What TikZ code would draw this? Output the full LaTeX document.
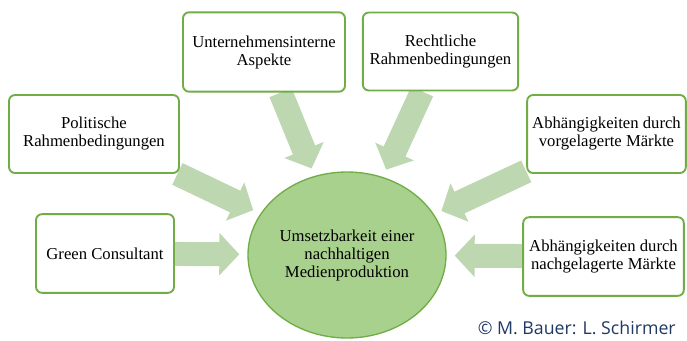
\documentclass[tikz,border=0pt]{standalone}
\usepackage{fontspec}
\setmainfont{Liberation Serif}
\newfontfamily\creditfont{Open Sans}
\usetikzlibrary{shapes.geometric,arrows.meta,backgrounds}

\definecolor{boxgreen}{RGB}{112,173,71}
\definecolor{fillgreen}{RGB}{169,209,142}
\definecolor{arrowgreen}{RGB}{189,215,177}
\definecolor{creditblue}{RGB}{31,56,100}

\tikzset{
  factor/.style={draw=boxgreen, line width=1.4pt, fill=white, rounded corners=4.5pt,
    align=center, inner sep=0pt, font=\fontsize{12.5}{13.5}\selectfont},
  goal/.style={ellipse, draw=boxgreen, line width=1pt, fill=fillgreen,
    align=center, inner sep=0pt, font=\fontsize{12.5}{13.5}\selectfont},
  flow/.style={draw=arrowgreen, line width=18pt,
    -{Triangle[width=31pt,length=15pt]}, shorten >=6pt}
}

\begin{document}
\begin{tikzpicture}[x=0.75pt,y=0.75pt,yscale=-1,xscale=1]
    \useasboundingbox (0,0) rectangle (687,340);

    % Centre
    \node [goal, minimum width=148.5pt, minimum height=124.5pt] (goal) at (347,255)
      {Umsetzbarkeit einer\\nachhaltigen\\Medienproduktion};

    % Factors
    \node [factor, minimum width=121.5pt, minimum height=59.5pt] (intern) at (264,52)
      {Unternehmensinterne\\Aspekte};
    \node [factor, minimum width=116.5pt, minimum height=58.5pt] (recht) at (440.5,51.5)
      {Rechtliche\\Rahmenbedingungen};
    \node [factor, minimum width=127.5pt, minimum height=58.5pt] (polit) at (94,134)
      {Politische\\Rahmenbedingungen};
    \node [factor, minimum width=119pt, minimum height=58.5pt] (vorgel) at (606.5,134)
      {Abhängigkeiten durch\\vorgelagerte Märkte};
    \node [factor, minimum width=103.5pt, minimum height=59pt] (green) at (105,253.5)
      {Green Consultant};
    \node [factor, minimum width=120.5pt, minimum height=59pt] (nachgel) at (603.5,256.5)
      {Abhängigkeiten durch\\nachgelagerte Märkte};

    % Arrows
    \begin{scope}[on background layer]
      \draw [flow] (intern) -- (goal);
      \draw [flow] (recht) -- (goal);
      \draw [flow] (polit) -- (goal);
      \draw [flow] (vorgel) -- (goal);
      \draw [flow] (green) -- (goal);
      \draw [flow] (nachgel) -- (goal);
    \end{scope}

    % Credit
    \node [anchor=base east, inner sep=0pt, text=creditblue, font=\creditfont\fontsize{13.3}{15}\selectfont] (credit) at (676,334)
      {© M. Bauer: L. Schirmer};

\end{tikzpicture}
\end{document}
